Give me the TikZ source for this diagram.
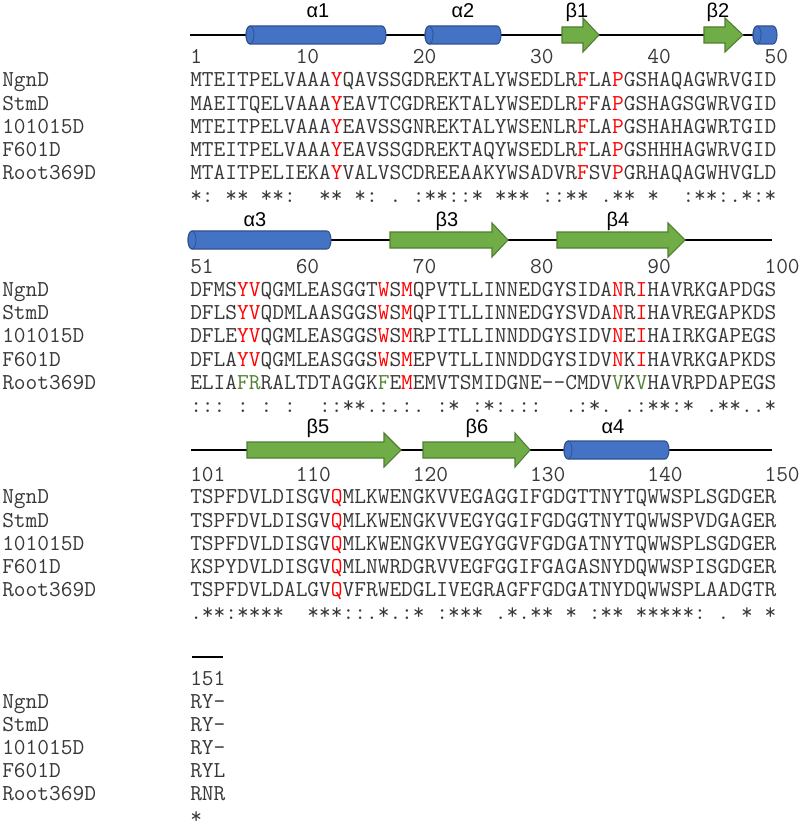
\documentclass[tikz,border=0pt]{standalone}
\usepackage{fontspec}
\newfontfamily\labfont{Liberation Sans}
\definecolor{resred}{HTML}{FF0000}
\definecolor{resgreen}{HTML}{548235}
\definecolor{seqgray}{HTML}{383838}
\definecolor{helixfill}{HTML}{4472C4}
\definecolor{helixline}{HTML}{2F528F}
\definecolor{strandfill}{HTML}{70AD47}
\definecolor{strandline}{HTML}{507E32}
\newcommand\Rd[1]{\textcolor{resred}{#1}}
\newcommand\Gn[1]{\textcolor{resgreen}{#1}}
\newlength\seqw
\newcommand\drawhelix[3]{%
  \filldraw[helixstyle] ({#1+4},{#3-9}) -- ({#2-4},{#3-9})
    arc[start angle=-90,end angle=90,x radius=4,y radius=9]
    -- ({#1+4},{#3+9})
    arc[start angle=90,end angle=270,x radius=4,y radius=9] -- cycle;
  \draw[helixface] ({#1+4},#3) ellipse[x radius=4,y radius=9];}
\newcommand\drawstrand[4]{%
  \filldraw[strandstyle] (#1,{#4-8}) -- (#2,{#4-8}) -- (#2,{#4-17}) -- (#3,#4)
    -- (#2,{#4+17}) -- (#2,{#4+8}) -- (#1,{#4+8}) -- cycle;}
\begin{document}
\settowidth\seqw{\ttfamily\fontsize{16.74}{20}\selectfont M}%
\pgfmathsetmacro\seqfs{16.74*8.79/\seqw}%
\begin{tikzpicture}[x=0.75pt,y=-0.75pt]
\tikzset{
  seqtxt/.style={font=\ttfamily\fontsize{\seqfs}{20}\selectfont, text=seqgray, inner sep=0pt, anchor=base west},
  labtxt/.style={font=\labfont\fontsize{15}{17}\selectfont, text=black, inner sep=0pt, anchor=base},
  backbone/.style={line width=2.1pt, black},
  helixstyle/.style={fill=helixfill, draw=helixline, line width=0.8pt},
  helixface/.style={draw=helixline, line width=0.6pt},
  strandstyle/.style={fill=strandfill, draw=strandline, line width=0.8pt, line join=miter}
}
\fill[white] (0,0) rectangle (800,827);
\useasboundingbox (0,0) rectangle (800,827);

% ---------------- block 1 ----------------
\draw[backbone] (190,35) -- (757,35);
\drawhelix{246}{386}{35}
\drawhelix{425}{501}{35}
\drawhelix{753}{777}{35}
\drawstrand{562}{583}{599}{35}
\drawstrand{704}{725}{743}{35}
\node[labtxt] (la1) at (318,18) {α1};
\node[labtxt] (la2) at (463,18) {α2};
\node[labtxt] (lb1) at (577,18) {β1};
\node[labtxt] (lb2) at (718,18) {β2};
\node[seqtxt] (n1a) at (190,63.9) {1};
\node[seqtxt] (n1b) at (295.48,63.9) {10};
\node[seqtxt] (n1c) at (412.68,63.9) {20};
\node[seqtxt] (n1d) at (529.88,63.9) {30};
\node[seqtxt] (n1e) at (647.08,63.9) {40};
\node[seqtxt] (n1f) at (764.28,63.9) {50};
\node[seqtxt] (t1a) at (2,86.9) {NgnD};
\node[seqtxt] (t1b) at (2,110.1) {StmD};
\node[seqtxt] (t1c) at (2,133.3) {101015D};
\node[seqtxt] (t1d) at (2,156.5) {F601D};
\node[seqtxt] (t1e) at (2,179.7) {Root369D};
\node[seqtxt] (s1a) at (190,86.9) {MTEITPELVAAA\Rd{Y}QAVSSGDREKTALYWSEDLR\Rd{F}LA\Rd{P}GSHAQAGWRVGID};
\node[seqtxt] (s1b) at (190,110.1) {MAEITQELVAAA\Rd{Y}EAVTCGDREKTALYWSEDLR\Rd{F}FA\Rd{P}GSHAGSGWRVGID};
\node[seqtxt] (s1c) at (190,133.3) {MTEITPELVAAA\Rd{Y}EAVSSGNREKTALYWSENLR\Rd{F}LA\Rd{P}GSHAHAGWRTGID};
\node[seqtxt] (s1d) at (190,156.5) {MTEITPELVAAA\Rd{Y}EAVSSGDREKTAQYWSEDLR\Rd{F}LA\Rd{P}GSHHHAGWRVGID};
\node[seqtxt] (s1e) at (190,179.7) {MTAITPELIEKA\Rd{Y}VALVSCDREEAAKYWSADVR\Rd{F}SV\Rd{P}GRHAQAGWHVGLD};
\node[seqtxt] (c1) at (190,202.9) {*:~**~**:~~**~*:~.~:**::*~***~::**~.**~*~~:**:.*:*};

% ---------------- block 2 ----------------
\draw[backbone] (191,240) -- (772,240);
\drawhelix{188}{331}{240}
\drawstrand{390}{492}{508}{240}
\drawstrand{557}{668}{685}{240}
\node[labtxt] (la3) at (255,226.5) {α3};
\node[labtxt] (lb3) at (447,226.5) {β3};
\node[labtxt] (lb4) at (618,226.5) {β4};
\node[seqtxt] (n2a) at (190,273.9) {51};
\node[seqtxt] (n2b) at (295.48,273.9) {60};
\node[seqtxt] (n2c) at (412.68,273.9) {70};
\node[seqtxt] (n2d) at (529.88,273.9) {80};
\node[seqtxt] (n2e) at (647.08,273.9) {90};
\node[seqtxt] (n2f) at (764.28,273.9) {100};
\node[seqtxt] (t2a) at (2,296.4) {NgnD};
\node[seqtxt] (t2b) at (2,319.6) {StmD};
\node[seqtxt] (t2c) at (2,342.8) {101015D};
\node[seqtxt] (t2d) at (2,366.0) {F601D};
\node[seqtxt] (t2e) at (2,389.2) {Root369D};
\node[seqtxt] (s2a) at (190,296.4) {DFMS\Rd{YV}QGMLEASGGT\Rd{W}S\Rd{M}QPVTLLINNEDGYSIDA\Rd{N}R\Rd{I}HAVRKGAPDGS};
\node[seqtxt] (s2b) at (190,319.6) {DFLS\Rd{YV}QDMLAASGGS\Rd{W}S\Rd{M}QPITLLINNEDGYSVDA\Rd{N}R\Rd{I}HAVREGAPKDS};
\node[seqtxt] (s2c) at (190,342.8) {DFLE\Rd{YV}QGMLEASGGS\Rd{W}S\Rd{M}RPITLLINNDDGYSIDV\Rd{N}E\Rd{I}HAIRKGAPEGS};
\node[seqtxt] (s2d) at (190,366.0) {DFLA\Rd{YV}QGMLEASGGS\Rd{W}S\Rd{M}EPVTLLINNDDGYSIDV\Rd{N}K\Rd{I}HAVRKGAPKDS};
\node[seqtxt] (s2e) at (190,389.2) {ELIA\Gn{FR}RALTDTAGGK\Gn{F}E\Rd{M}EMVTSMIDGNE-\kern0pt-CMDV\Gn{V}K\Gn{V}HAVRPDAPEGS};
\node[seqtxt] (c2) at (190,412.4) {:::~:~:~:~~::**.:.:.~:*~:*:.::~~.:*.~.:**:*~.**..*};

% ---------------- block 3 ----------------
\draw[backbone] (191,450) -- (772,450);
\drawstrand{247}{384}{401}{450}
\drawstrand{423}{515}{530}{450}
\drawhelix{564}{669}{450}
\node[labtxt] (lb5) at (318,433.5) {β5};
\node[labtxt] (lb6) at (477,433.5) {β6};
\node[labtxt] (la4) at (613,433.5) {α4};
\node[seqtxt] (n3a) at (190,481.9) {101};
\node[seqtxt] (n3b) at (295.48,481.9) {110};
\node[seqtxt] (n3c) at (412.68,481.9) {120};
\node[seqtxt] (n3d) at (529.88,481.9) {130};
\node[seqtxt] (n3e) at (647.08,481.9) {140};
\node[seqtxt] (n3f) at (764.28,481.9) {150};
\node[seqtxt] (t3a) at (2,503.9) {NgnD};
\node[seqtxt] (t3b) at (2,527.1) {StmD};
\node[seqtxt] (t3c) at (2,550.3) {101015D};
\node[seqtxt] (t3d) at (2,573.5) {F601D};
\node[seqtxt] (t3e) at (2,596.7) {Root369D};
\node[seqtxt] (s3a) at (190,503.9) {TSPFDVLDISGV\Rd{Q}MLKWENGKVVEGAGGIFGDGTTNYTQWWSPLSGDGER};
\node[seqtxt] (s3b) at (190,527.1) {TSPFDVLDISGV\Rd{Q}MLKWENGKVVEGYGGIFGDGGTNYTQWWSPVDGAGER};
\node[seqtxt] (s3c) at (190,550.3) {TSPFDVLDISGV\Rd{Q}MLKWENGKVVEGYGGVFGDGATNYTQWWSPLSGDGER};
\node[seqtxt] (s3d) at (190,573.5) {KSPYDVLDISGV\Rd{Q}MLNWRDGRVVEGFGGIFGAGASNYDQWWSPISGDGER};
\node[seqtxt] (s3e) at (190,596.7) {TSPFDVLDALGV\Rd{Q}VFRWEDGLIVEGRAGFFGDGATNYDQWWSPLAADGTR};
\node[seqtxt] (c3) at (190,619.9) {.**:****~~***::.*.:*~:***~.*.**~*~:**~*****:~.~*~*};

% ---------------- block 4 ----------------
\draw[backbone] (192,657) -- (223,657);
\node[seqtxt] (n4a) at (190,685.5) {151};
\node[seqtxt] (t4a) at (2,708.5) {NgnD};
\node[seqtxt] (t4b) at (2,731.5) {StmD};
\node[seqtxt] (t4c) at (2,754.5) {101015D};
\node[seqtxt] (t4d) at (2,777.5) {F601D};
\node[seqtxt] (t4e) at (2,800.5) {Root369D};
\node[seqtxt] (s4a) at (190,708.5) {RY-};
\node[seqtxt] (s4b) at (190,731.5) {RY-};
\node[seqtxt] (s4c) at (190,754.5) {RY-};
\node[seqtxt] (s4d) at (190,777.5) {RYL};
\node[seqtxt] (s4e) at (190,800.5) {RNR};
\node[seqtxt] (c4) at (190,823) {*};
\end{tikzpicture}
\end{document}
